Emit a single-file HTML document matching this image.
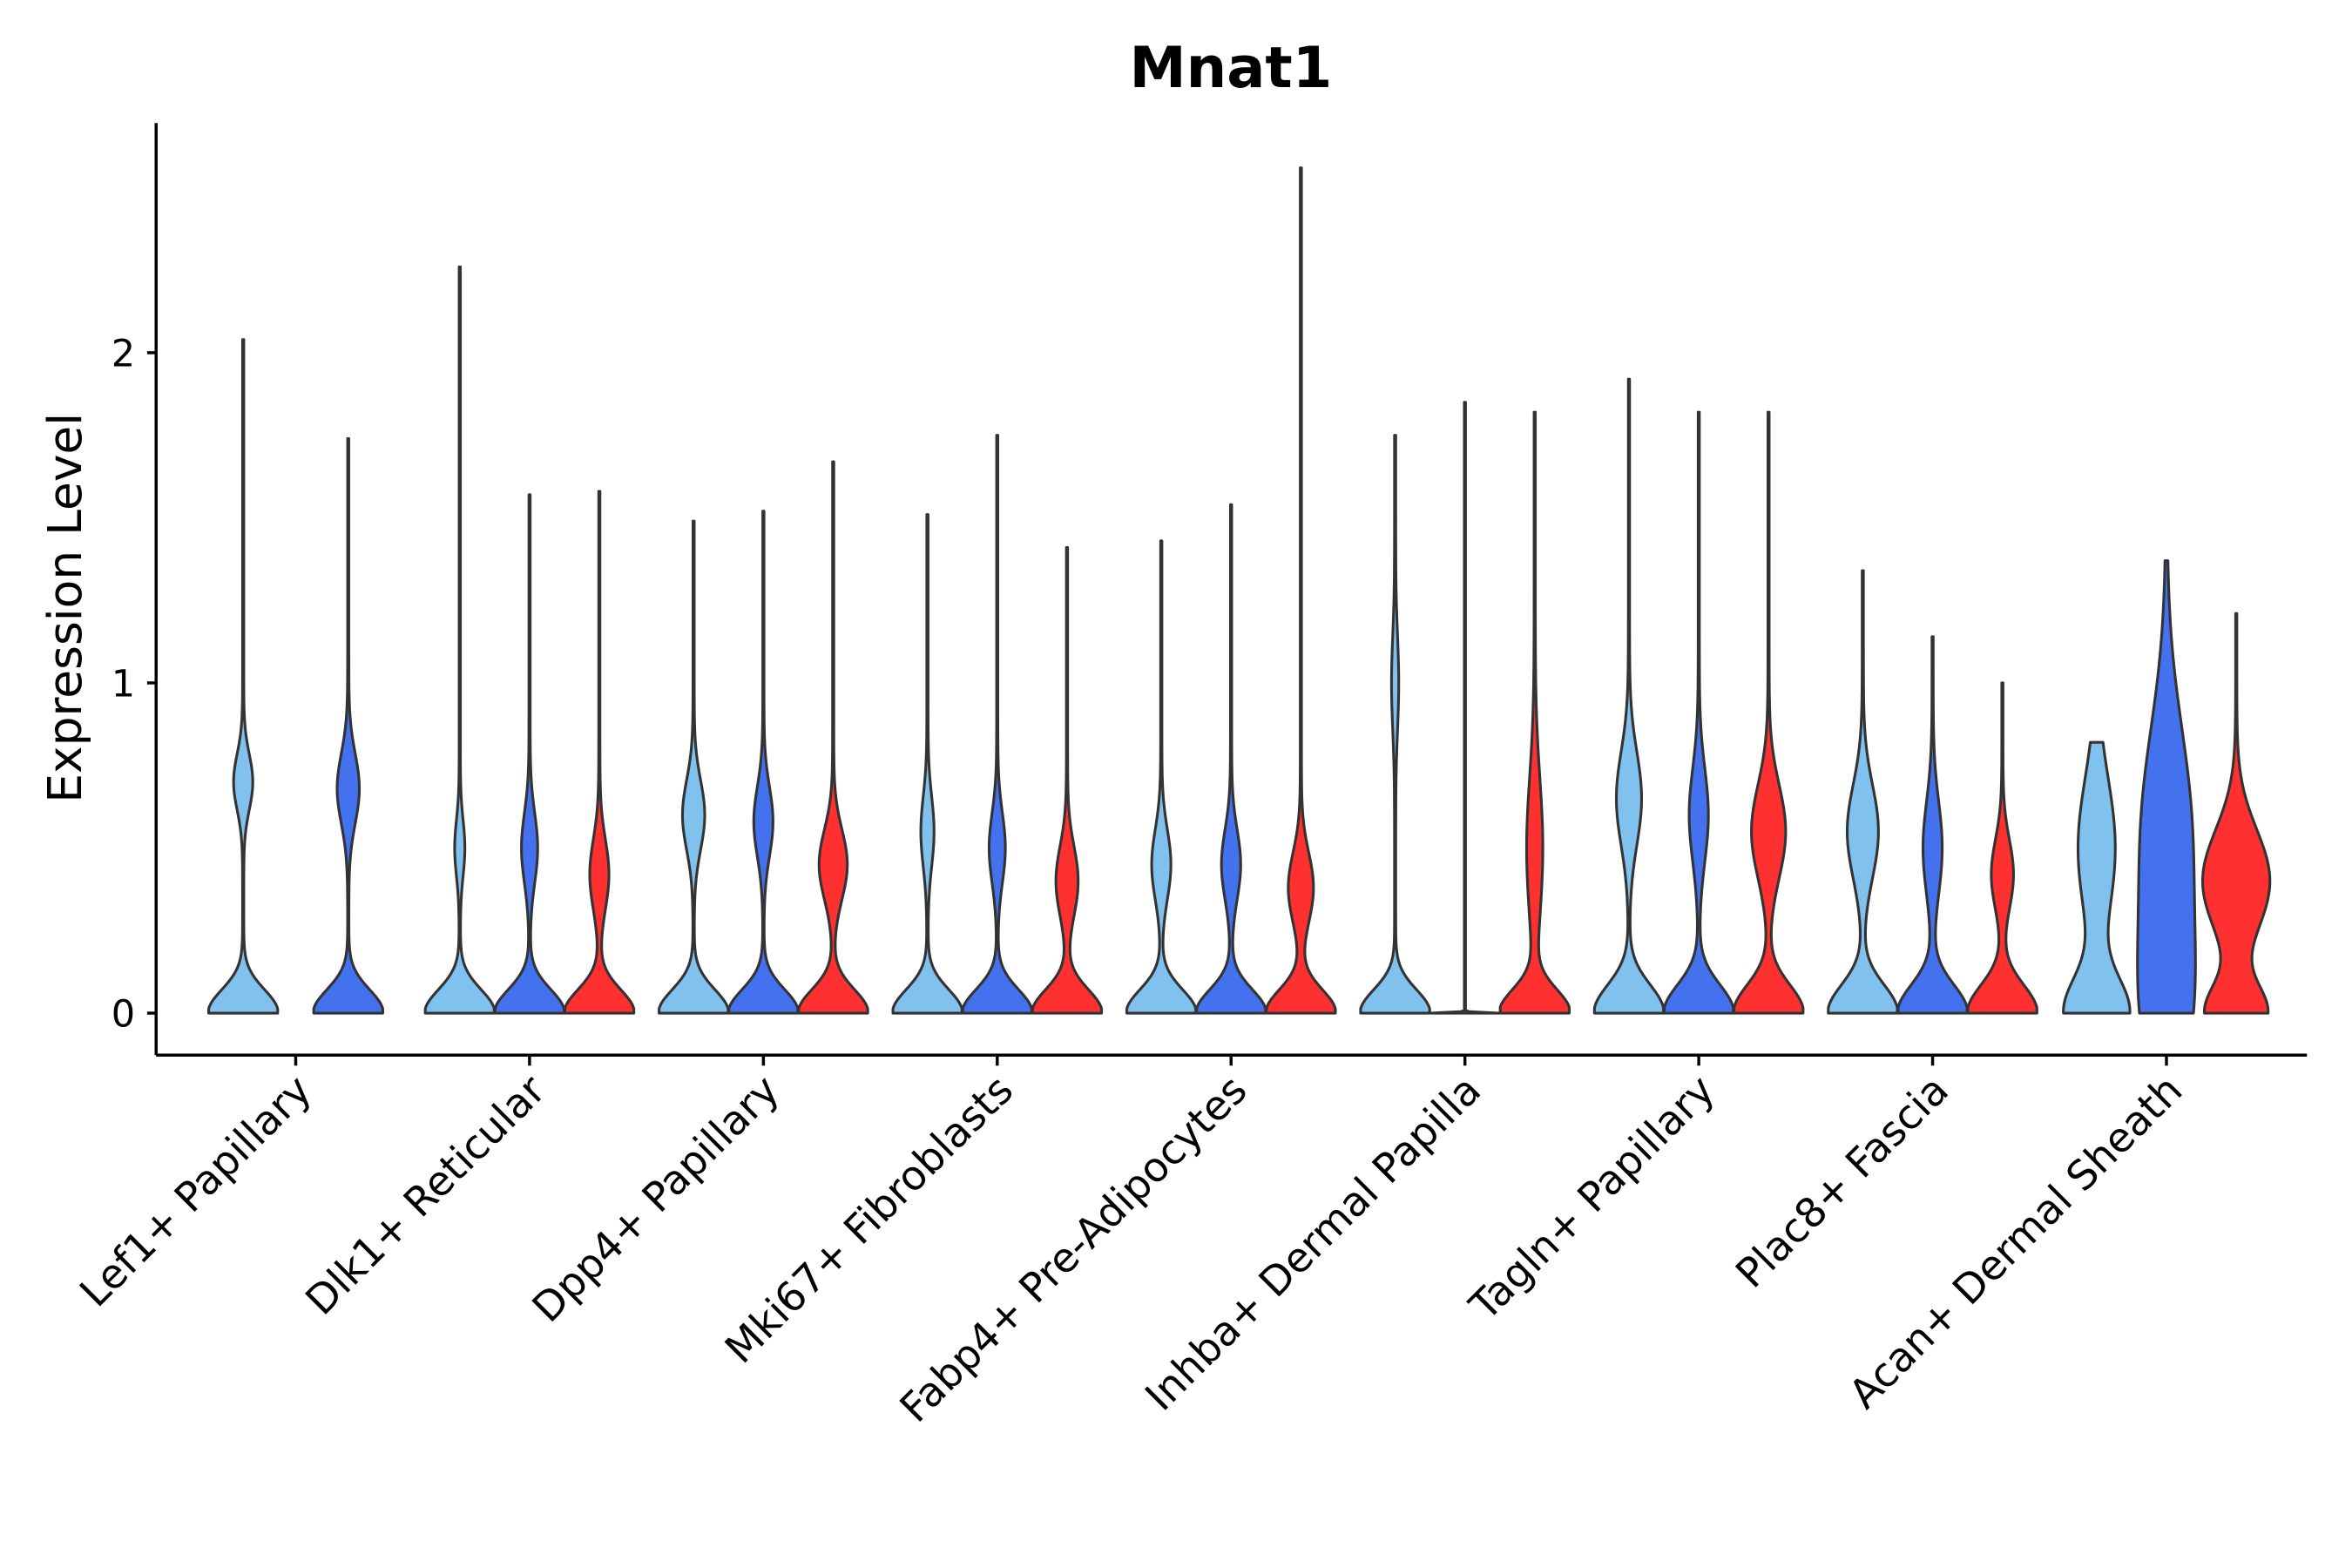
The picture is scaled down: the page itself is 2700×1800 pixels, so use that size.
<!DOCTYPE html>
<html><head><meta charset="utf-8"><style>
html,body{margin:0;padding:0;background:#fff;}
svg{display:block;}
text{font-family:"DejaVu Sans","Liberation Sans",sans-serif;fill:#000;}
</style></head><body>
<svg id="chart" width="2700" height="1800" viewBox="0 0 1567 1044.7" xmlns="http://www.w3.org/2000/svg">
<text x="820" y="58" font-size="38" font-weight="bold" text-anchor="middle">Mnat1</text>
<text x="0" y="0" font-size="31" text-anchor="middle" transform="translate(54,405) rotate(-90)">Expression Level</text>
<g id="violins"></g>
<g id="axes"></g>
</svg>
<script>
const categories=["Lef1+ Papillary","Dlk1+ Reticular","Dpp4+ Papillary","Mki67+ Fibroblasts","Fabp4+ Pre-Adipocytes","Inhba+ Dermal Papilla","Tagln+ Papillary","Plac8+ Fascia","Acan+ Dermal Sheath"];
const yTicks=[0,1,2];
const violinCat=[0,0,1,1,1,2,2,2,3,3,3,4,4,4,5,5,5,6,6,6,7,7,7,8,8,8];
const violinGroup=[0,1,0,1,2,0,1,2,0,1,2,0,1,2,0,1,2,0,1,2,0,1,2,0,1,2];
const violinMax=[2.04,1.74,2.26,1.57,1.58,1.49,1.52,1.67,1.51,1.75,1.41,1.43,1.54,2.56,1.75,1.85,1.82,1.92,1.82,1.82,1.34,1.14,1.0,0.82,1.37,1.21];
const violinMode=[0.7,0.68,0.5,0.5,0.42,0.6,0.58,0.45,0.55,0.5,0.4,0.45,0.45,0.38,1.0,0.5,0.5,0.65,0.6,0.55,0.55,0.5,0.42,0.5,0.55,0.4];
const bulbWidth=[23,23,23,23,23,23,23,23,23,23,23,23,23,23,23,23,23,23,23,23,23,23,23,21,14,20];
const bulbSpread=[0.1,0.1,0.1,0.1,0.1,0.1,0.1,0.1,0.1,0.1,0.1,0.1,0.1,0.1,0.1,0.003,0.1,0.12,0.12,0.12,0.12,0.12,0.12,0.15,0.35,0.12];
const modeWidth=[6,7,3,5,6,7,6,9,4,5,7,6,6,8,2,0,5,8,6,11,10,6,7,12,16,22];
const modeSpread=[0.12,0.15,0.12,0.15,0.15,0.15,0.15,0.15,0.15,0.15,0.15,0.15,0.15,0.15,0.2,0.2,0.3,0.2,0.2,0.2,0.2,0.2,0.15,0.3,0.45,0.22];
const colors=["#80C1EE","#4471EE","#FF3030"];
const x0=104,x1=1537,yTop=82,yBot=703;
function yScale(v){return 675-220*v;}
function xCat(i){return 197+155.8*i;}
const svgNS="http://www.w3.org/2000/svg";
const vg=document.getElementById('violins');
const ag=document.getElementById('axes');
function nGroups(c){let n=0;for(let k=0;k<violinCat.length;k++)if(violinCat[k]===c)n++;return n;}
for(let k=0;k<violinCat.length;k++){
  const c=violinCat[k],g=violinGroup[k],n=nGroups(c);
  const cx= n===2 ? xCat(c)+(g===0?-35:35) : xCat(c)+(g-1)*46.5;
  const mx=violinMax[k],steps=400;
  const right=[],left=[];
  for(let s=0;s<=steps;s++){
    const v=mx*s/steps;
    let w=bulbWidth[k]*Math.exp(-Math.pow(v/bulbSpread[k],2))+modeWidth[k]*Math.exp(-Math.pow((v-violinMode[k])/modeSpread[k],2))+0.4;
    w=Math.min(23,w);
    right.push((cx+w).toFixed(2)+","+yScale(v).toFixed(2));
    left.unshift((cx-w).toFixed(2)+","+yScale(v).toFixed(2));
  }
  const p=document.createElementNS(svgNS,'polygon');
  p.setAttribute('points',right.concat(left).join(' '));
  p.setAttribute('fill',colors[g]);
  p.setAttribute('stroke','#333');
  p.setAttribute('stroke-width','1.8');
  p.setAttribute('stroke-linejoin','round');
  
  
  vg.appendChild(p);
}
function line(a,b,c,d,name){const l=document.createElementNS(svgNS,'line');l.setAttribute('x1',a);l.setAttribute('y1',b);l.setAttribute('x2',c);l.setAttribute('y2',d);l.setAttribute('stroke','#000');l.setAttribute('stroke-width','2');


ag.appendChild(l);}
line(x0,yTop,x0,yBot,'y-axis-line');
line(x0,yBot,x1,yBot,'x-axis-line');
yTicks.forEach(t=>{
  line(x0-6,yScale(t),x0,yScale(t),'y-tick');
  const tx=document.createElementNS(svgNS,'text');
  tx.setAttribute('x',x0-14);tx.setAttribute('y',yScale(t)+9);tx.setAttribute('font-size','25');tx.setAttribute('text-anchor','end');
  tx.textContent=t;
  
  
  ag.appendChild(tx);
});
categories.forEach((c,i)=>{
  const x=xCat(i);
  line(x,yBot,x,yBot+7,'x-tick');
  const tx=document.createElementNS(svgNS,'text');
  tx.setAttribute('font-size','27');tx.setAttribute('text-anchor','end');
  tx.setAttribute('transform','translate('+(x+12)+','+(yBot+25)+') rotate(-45)');
  tx.textContent=c;
  
  
  ag.appendChild(tx);
});
</script>
</body></html>
